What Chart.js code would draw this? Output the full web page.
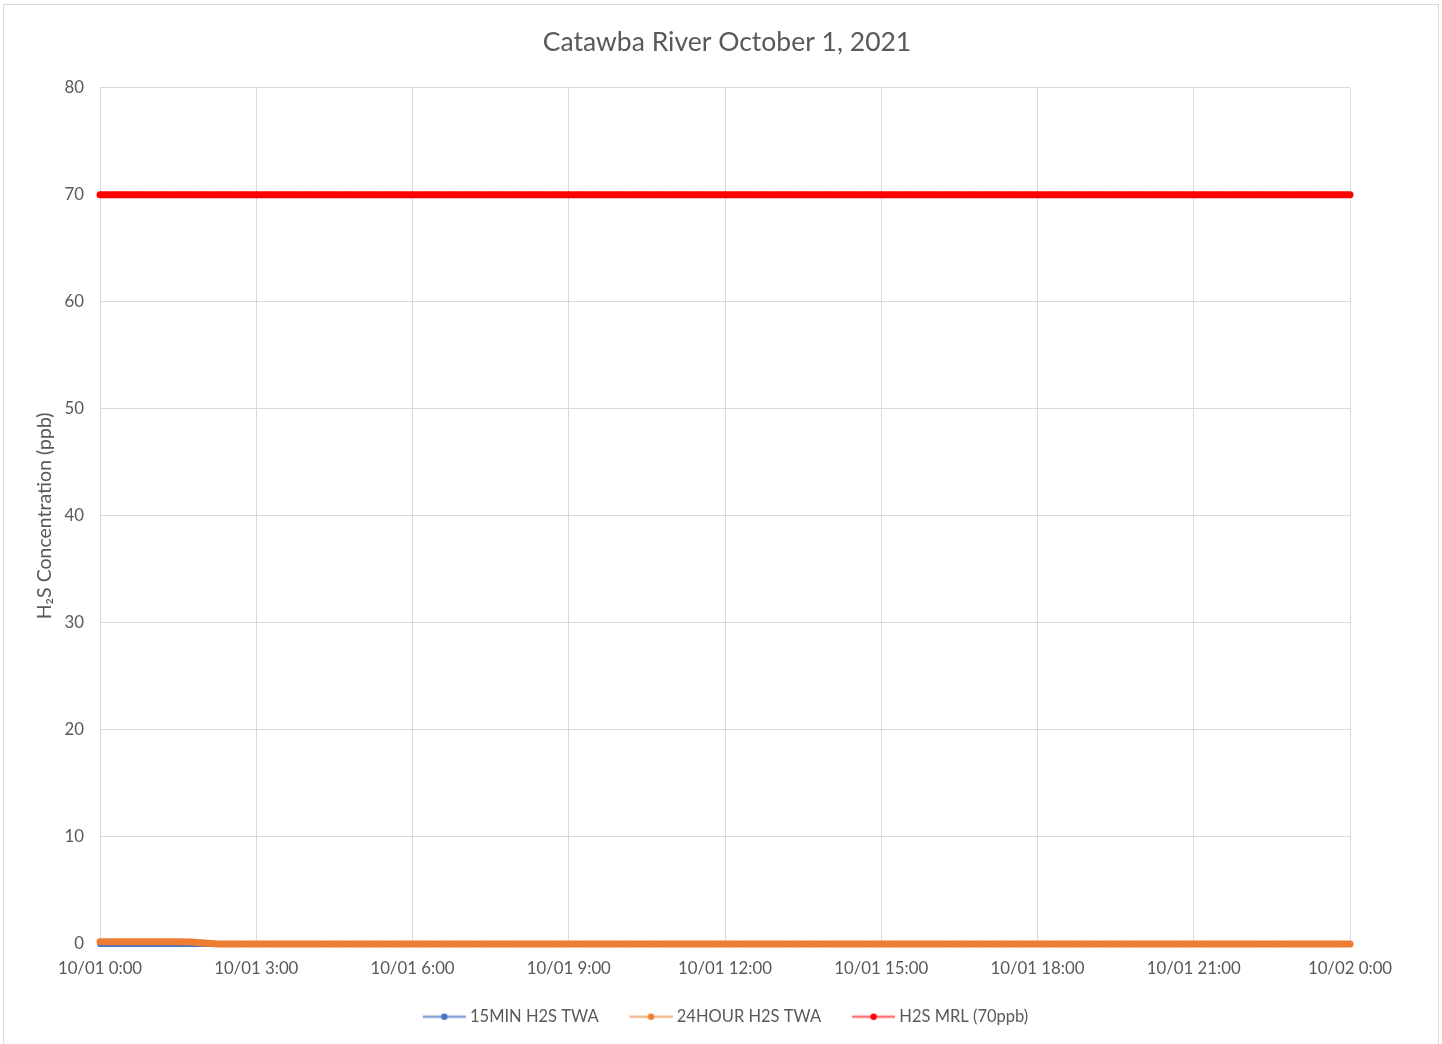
<!DOCTYPE html>
<html>
<head>
<meta charset="utf-8">
<script src="https://cdn.jsdelivr.net/npm/chart.js@4"></script>
<style>
html,body{margin:0;padding:0;background:#fff;}
#wrap{position:relative;width:1442px;height:1044px;overflow:hidden;}
#frame{position:absolute;left:3px;top:4px;width:1436px;height:1060px;border:1px solid #d9d9d9;box-sizing:border-box;pointer-events:none;}
canvas{position:absolute;left:0;top:0;}
</style>
</head>
<body>
<div id="wrap"><canvas id="c" width="1442" height="1044"></canvas><div id="frame"></div></div>
<script>
// Minutes since 10/01 0:00, every 15 minutes
const minutes = [
  0,15,30,45,60,75,90,105,120,135,150,165,180,195,210,225,
  240,255,270,285,300,315,330,345,360,375,390,405,420,435,450,465,
  480,495,510,525,540,555,570,585,600,615,630,645,660,675,690,705,
  720,735,750,765,780,795,810,825,840,855,870,885,900,915,930,945,
  960,975,990,1005,1020,1035,1050,1065,1080,1095,1110,1125,1140,1155,1170,1185,
  1200,1215,1230,1245,1260,1275,1290,1305,1320,1335,1350,1365,1380,1395,1410,1425,
  1440
];
const twa15min = [
  0,0,0,0,0,0,0,0,0,0,0,0,0,0,0,0,
  0,0,0,0,0,0,0,0,0,0,0,0,0,0,0,0,
  0,0,0,0,0,0,0,0,0,0,0,0,0,0,0,0,
  0,0,0,0,0,0,0,0,0,0,0,0,0,0,0,0,
  0,0,0,0,0,0,0,0,0,0,0,0,0,0,0,0,
  0,0,0,0,0,0,0,0,0,0,0,0,0,0,0,0,
  0
];
const twa24hour = [
  0.22,0.22,0.21,0.21,0.2,0.2,0.2,0.19,0.1,0,0,0,0,0,0,0,
  0,0,0,0,0,0,0,0,0,0,0,0,0,0,0,0,
  0,0,0,0,0,0,0,0,0,0,0,0,0,0,0,0,
  0,0,0,0,0,0,0,0,0,0,0,0,0,0,0,0,
  0,0,0,0,0,0,0,0,0,0,0,0,0,0,0,0,
  0,0,0,0,0,0,0,0,0,0,0,0,0,0,0,0,
  0
];
const mrl = [
  70,70,70,70,70,70,70,70,70,70,70,70,70,70,70,70,
  70,70,70,70,70,70,70,70,70,70,70,70,70,70,70,70,
  70,70,70,70,70,70,70,70,70,70,70,70,70,70,70,70,
  70,70,70,70,70,70,70,70,70,70,70,70,70,70,70,70,
  70,70,70,70,70,70,70,70,70,70,70,70,70,70,70,70,
  70,70,70,70,70,70,70,70,70,70,70,70,70,70,70,70,
  70
];
const xTickLabels = ['10/01 0:00','10/01 3:00','10/01 6:00','10/01 9:00','10/01 12:00','10/01 15:00','10/01 18:00','10/01 21:00','10/02 0:00'];
const seriesNames = ['15MIN H2S TWA','24HOUR H2S TWA','H2S MRL (70ppb)'];
const seriesColors = ['#4472C4','#ED7D31','#FF0000'];
const legendLineColors = ['rgba(68,114,196,0.65)','rgba(237,125,49,0.55)','rgba(255,0,0,0.55)'];

// legend symbol: transparent lead-in (spacing) + line with marker
function legendIcon(lineColor, dotColor){
  const cv = document.createElement('canvas');
  cv.width = 66; cv.height = 10;
  const g = cv.getContext('2d');
  g.strokeStyle = lineColor; g.lineWidth = 2.5;
  g.beginPath(); g.moveTo(23,5); g.lineTo(66,5); g.stroke();
  g.fillStyle = dotColor; g.beginPath(); g.arc(44.5,5,3.2,0,Math.PI*2); g.fill();
  return cv;
}
const icons = seriesNames.map((n,i)=>legendIcon(legendLineColors[i], seriesColors[i]));

const mk = (arr)=>arr.map((v,i)=>({x:minutes[i], y:v}));
const FONT = 'Lato';
const TXT = '#595959';

const blockShift = {
  id: 'blockShift',
  afterLayout(chart){
    if (chart.titleBlock){ chart.titleBlock.left = 12; chart.titleBlock.right = 1442; }
    if (chart.legend){ chart.legend.left += 24; chart.legend.right += 25; }
  }
};

const common = {pointBorderWidth: 0, borderCapStyle: 'round', borderJoinStyle: 'round', clip: false};

new Chart(document.getElementById('c'), {
  type: 'line',
  data: {
    datasets: [
      Object.assign({label: seriesNames[0], data: mk(twa15min), borderColor: seriesColors[0], backgroundColor: seriesColors[0], borderWidth: 6, pointRadius: 2.5, order: 3}, common),
      Object.assign({label: seriesNames[1], data: mk(twa24hour), borderColor: seriesColors[1], backgroundColor: seriesColors[1], borderWidth: 7, pointRadius: 3, order: 2}, common),
      Object.assign({label: seriesNames[2], data: mk(mrl), borderColor: seriesColors[2], backgroundColor: seriesColors[2], borderWidth: 7, pointRadius: 3, order: 1}, common)
    ]
  },
  plugins: [blockShift],
  options: {
    responsive: false,
    animation: false,
    devicePixelRatio: 1,
    layout: {padding: {left: 33, right: 92, top: 0, bottom: 9}},
    plugins: {
      title: {display: true, text: 'Catawba River October 1, 2021', color: TXT,
        font: {family: FONT, size: 26.5, weight: 'normal'}, padding: {top: 27, bottom: 29}},
      legend: {position: 'bottom',
        labels: {
          color: TXT, font: {family: FONT, size: 16.5}, usePointStyle: true, pointStyleWidth: 58, padding: 12,
          generateLabels: (chart)=>seriesNames.map((n,i)=>({text: n, pointStyle: icons[i], fillStyle: seriesColors[i], strokeStyle: seriesColors[i], lineWidth: 0, hidden: false, datasetIndex: i, fontColor: TXT}))
        }
      },
      tooltip: {enabled: false}
    },
    scales: {
      x: {type: 'linear', min: 0, max: 1440,
        ticks: {stepSize: 180, color: TXT, font: {family: FONT, size: 16.8}, padding: 15, maxRotation: 0, autoSkip: false,
          callback: (v)=>xTickLabels[Math.round(v/180)]},
        grid: {color: '#d9d9d9', lineWidth: 1, tickLength: 0},
        border: {color: '#d9d9d9'},
        afterFit: (s)=>{ s.height = 52.5; }
      },
      y: {min: 0, max: 80,
        ticks: {stepSize: 10, color: TXT, font: {family: FONT, size: 16.8}, padding: 16},
        grid: {color: '#d9d9d9', lineWidth: 1, tickLength: 0},
        border: {display: false},
        title: {display: true, text: 'H\u2082S Concentration (ppb)', color: TXT, font: {family: FONT, size: 19.5}, padding: 0},
        afterFit: (s)=>{ s.width = 67; }
      }
    }
  }
});
</script>
</body>
</html>
